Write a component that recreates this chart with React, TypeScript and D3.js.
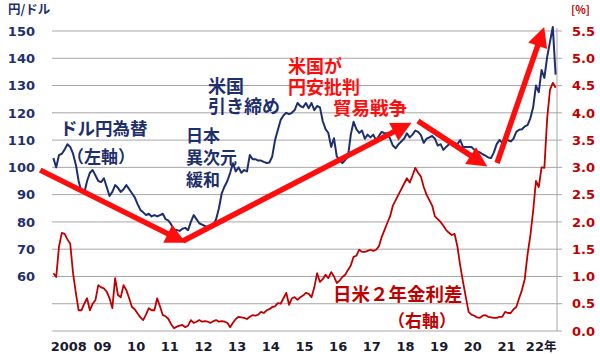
import React from 'react';
import * as d3 from 'd3';

// Year labels on the x axis
const yearLabels = ['2008', '09', '10', '11', '12', '13', '14', '15', '16', '17', '18', '19', '20', '21', '22年'];
const firstYear = 2008;
const lastYear = 2023;

// Left axis (円/ドル) and right axis (%) tick values
const leftTicks = [60, 70, 80, 90, 100, 110, 120, 130, 140, 150];
const rightTicks = [0, 0.5, 1, 1.5, 2, 2.5, 3, 3.5, 4, 4.5, 5, 5.5];

// Monthly USD/JPY (Jan 2008 .. Dec 2022)
const usdJpy = [
  103.4, 100, 104.5, 105, 106.5, 108.5, 107.5, 105, 101, 95, 91, 90.5,
  95, 98, 99, 97, 95, 94.6, 96, 92.8, 89.5, 91, 93.5, 92.5,
  91, 92, 93.5, 92, 90.5, 89, 86.5, 84.4, 83.5, 82.5, 83, 82,
  82.5, 82, 82.5, 83, 81, 80.5, 79, 77, 77, 76.7, 77.5, 77.8,
  77, 80, 82.5, 81, 79.5, 79, 78.5, 78, 77.8, 79, 81, 85,
  90.5, 93, 95, 98, 101.5, 98.5, 100, 98, 99, 98.5, 104.5, 103,
  103, 102.5, 102.5, 102, 101.6, 101.8, 104, 110, 113.7, 117.4, 119, 120,
  119.5, 120, 121, 123.6, 122.5, 122, 123.6, 121.7, 123.6, 121, 122.5, 122,
  117, 114, 112.6, 107.5, 110.7, 104, 102.7, 101.6, 102.7, 104, 112, 116.7,
  114, 112.6, 113.5, 110.5, 112, 111, 112, 110, 111.5, 113, 112.5, 112.5,
  110.5, 108, 107, 108.5, 109.5, 110.5, 112.5, 111, 112, 113.5, 113, 111.8,
  109, 110.5, 111, 111.5, 110.5, 108, 108.5, 106.4, 107.5, 108.5, 108.8, 109,
  108.5, 110, 107.5, 107.5, 107.5, 107.5, 106.5, 105.8, 105.5, 104.8, 104.3, 103.6,
  103.4, 105.5, 108.5, 110, 109, 110, 110, 109.5, 110.5, 113, 113.8, 114,
  115, 115.5, 118, 122, 130, 127.6, 135.7, 132.8, 140.5, 146, 151.5, 134,
];

// Monthly US-Japan 2-year yield spread, % (Jan 2008 .. Dec 2022)
const spread = [
  1.06, 0.99, 1.55, 1.8, 1.78, 1.68, 1.6, 1.06, 0.7, 0.38, 0.38, 0.5,
  0.6, 0.38, 0.5, 0.57, 0.84, 0.8, 0.78, 0.72, 0.6, 0.42, 0.97, 0.66,
  0.62, 0.84, 0.75, 0.6, 0.44, 0.4, 0.32, 0.25, 0.2, 0.3, 0.42, 0.38,
  0.38, 0.6, 0.45, 0.29, 0.27, 0.22, 0.12, 0.05, 0.08, 0.1, 0.11, 0.07,
  0.1, 0.2, 0.15, 0.17, 0.2, 0.17, 0.18, 0.17, 0.15, 0.18, 0.2, 0.17,
  0.18, 0.17, 0.15, 0.07, 0.15, 0.22, 0.26, 0.25, 0.24, 0.22, 0.26, 0.29,
  0.28, 0.3, 0.35, 0.33, 0.38, 0.4, 0.44, 0.45, 0.51, 0.5, 0.6, 0.7,
  0.48, 0.6, 0.62, 0.57, 0.62, 0.65, 0.7, 0.68, 0.62, 0.8, 1.06, 0.9,
  0.95, 1.03, 0.97, 1.08, 1.0, 0.88, 0.92, 0.99, 1.03, 1.12, 1.2, 1.36,
  1.38, 1.49, 1.45, 1.45, 1.47, 1.49, 1.47, 1.49, 1.55, 1.72, 1.85, 1.98,
  2.1, 2.3, 2.4, 2.5, 2.6, 2.7, 2.8, 2.72, 2.85, 2.99, 2.9, 2.83,
  2.64, 2.5, 2.4, 2.3, 2.1, 2.05, 2.0, 1.93, 1.85, 1.8, 1.76, 1.78,
  1.55, 1.2, 0.9, 0.62, 0.35, 0.3, 0.28, 0.25, 0.24, 0.28, 0.29, 0.26,
  0.25, 0.24, 0.24, 0.26, 0.26, 0.35, 0.33, 0.33, 0.4, 0.44, 0.6, 0.75,
  0.95, 1.4, 1.75, 2.2, 2.75, 2.64, 3.0, 2.99, 3.9, 4.42, 4.55, 4.46,
];

// Trend arrows, in data space [year, 円/ドル]
const arrowStarts: [number, number][] = [[2007.65, 99], [2011.89, 73], [2018.87, 117], [2021.22, 101.6]];
const arrowEnds: [number, number][] = [[2011.97, 72.4], [2018.68, 116.4], [2020.93, 100.3], [2022.62, 151.5]];

const NAVY = '#1e2f6e';
const DARK_RED = '#c00000';
const BRIGHT_RED = '#ff0d0d';
const GRID = '#a6a6a6';
const NUM_FONT = '"DejaVu Sans", Verdana, sans-serif';
const JP_FONT = '"Noto Sans CJK JP", "Noto Sans", sans-serif';

export default function App() {
  const W = 600, H = 354;
  const left = 52, right = 557, top = 31, bottom = 331;
  const x = d3.scaleLinear().domain([firstYear, lastYear]).range([left, right]);
  const yL = d3.scaleLinear().domain([40, 150]).range([bottom, top]);
  const yR = d3.scaleLinear().domain([0, 5.5]).range([bottom, top]);
  const t = (i: number) => firstYear + (i + 0.5) / 12;

  const jpyLine = d3.line<number>().x((_, i) => x(t(i))).y(d => yL(d))(usdJpy) || '';
  const spreadLine = d3.line<number>().x((_, i) => x(t(i))).y(d => yR(d))(spread) || '';

  const arrows = arrowStarts.map((s, k) => {
    const e = arrowEnds[k];
    const x0 = x(s[0]), y0 = yL(s[1]), x1 = x(e[0]), y1 = yL(e[1]);
    const dx = x1 - x0, dy = y1 - y0;
    const len = Math.hypot(dx, dy);
    const ux = dx / len, uy = dy / len;
    const headL = 20, headW = 10;
    const bx = x1 - ux * headL, by = y1 - uy * headL;
    const px = -uy, py = ux;
    const head = `M${x1},${y1}L${bx + px * headW},${by + py * headW}L${bx - px * headW},${by - py * headW}Z`;
    return { x0, y0, bx: x1 - ux * (headL - 2), by: y1 - uy * (headL - 2), head };
  });

  // multi-line annotation as one text element
  const jpBlock = (lines: string[], xx: number, ys: number[], fill: string, size: number, anchor: string = 'start') => (
    <text fill={fill} fontSize={size} fontWeight={700} fontFamily={JP_FONT}
      dominantBaseline="central" textAnchor={anchor}>
      {lines.map((s, i) => (
        <tspan key={s} x={xx} y={ys[i]}>{s}</tspan>
      ))}
    </text>
  );

  return (
    <svg width={W} height={H} viewBox={`0 0 ${W} ${H}`}
      style={{ position: 'absolute', left: 0, top: 0, background: '#fff' }}>
      {/* grid */}
      {rightTicks.map(v => (
        <line key={'g' + v} x1={left} x2={right + 5} y1={yR(v)} y2={yR(v)} stroke={GRID} strokeWidth={1} />
      ))}
      <line x1={right} x2={right} y1={top - 3} y2={bottom} stroke={GRID} strokeWidth={1} />

      {/* left ticks */}
      {leftTicks.map(v => (
        <text key={'l' + v} x={35} y={yL(v) + 4.7} textAnchor="end" fill={NAVY}
          fontFamily={NUM_FONT} fontWeight={700} fontSize={13}>{v}</text>
      ))}
      {/* right ticks */}
      {rightTicks.map(v => (
        <text key={'r' + v} x={572} y={yR(v) + 4.7} textAnchor="start" fill={DARK_RED}
          fontFamily={NUM_FONT} fontWeight={700} fontSize={13}>{v.toFixed(1)}</text>
      ))}
      {/* x labels */}
      {yearLabels.map((s, i) => (
        <text key={'x' + s} x={x(firstYear + i + 0.5) + (i === yearLabels.length - 1 ? 1 : 0)} y={350.5}
          textAnchor="middle" fill="#1a1a2e" fontFamily={NUM_FONT} fontWeight={700} fontSize={13}>
          {s.replace('年', '')}{s.includes('年') ? <tspan fontFamily={JP_FONT} fontSize={12.5}>年</tspan> : null}
        </text>
      ))}

      {/* axis titles */}
      <text x={8} y={14} fill={NAVY} fontFamily={JP_FONT} fontWeight={700} fontSize={12.5}>円/ドル</text>
      <text x={571} y={14} fill={DARK_RED} fontFamily={JP_FONT} fontWeight={700} fontSize={11}>[%]</text>

      {/* series */}
      <path d={spreadLine} fill="none" stroke={DARK_RED} strokeWidth={1.8} strokeLinejoin="round" />
      <path d={jpyLine} fill="none" stroke={NAVY} strokeWidth={2} strokeLinejoin="round" />

      {/* arrows */}
      {arrows.map((a, k) => (
        <g key={'a' + k}>
          <line x1={a.x0} y1={a.y0} x2={a.bx} y2={a.by} stroke={BRIGHT_RED} strokeWidth={5.5} />
          <path d={a.head} fill={BRIGHT_RED} />
        </g>
      ))}

      {/* annotations */}
      {jpBlock(['ドル円為替'], 60, [127], NAVY, 17.5)}
      {jpBlock(['（左軸）'], 101, [155], NAVY, 17, 'middle')}
      {jpBlock(['日本', '異次元', '緩和'], 186, [133.5, 155.5, 177.5], NAVY, 17)}
      {jpBlock(['米国', '引き締め'], 208, [84.5, 105], NAVY, 18)}
      {jpBlock(['米国が', '円安批判'], 288, [64.5, 85.5], BRIGHT_RED, 18)}
      {jpBlock(['貿易戦争'], 333, [106.5], BRIGHT_RED, 18.5)}
      {jpBlock(['日米２年金利差'], 333, [292.5], DARK_RED, 18.5)}
      {jpBlock(['（右軸）'], 422, [319], DARK_RED, 17, 'middle')}
    </svg>
  );
}
